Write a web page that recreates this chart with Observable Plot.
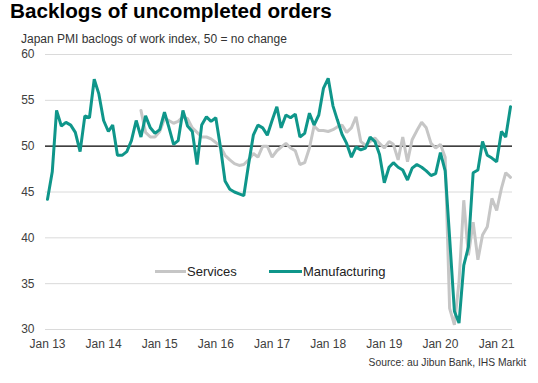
<!DOCTYPE html>
<html>
<head>
<meta charset="utf-8">
<script src="https://cdn.jsdelivr.net/npm/d3@7"></script>
<script src="https://cdn.jsdelivr.net/npm/@observablehq/plot@0.6"></script>
<style>
  html, body { margin: 0; padding: 0; background: #fff; }
  #wrap { position: relative; width: 538px; height: 383px; overflow: hidden; font-family: "Liberation Sans", Arial, sans-serif; }
  .abs { position: absolute; white-space: nowrap; }
  #title { left: 10px; top: 1px; font-size: 20.7px; line-height: 20.7px; font-weight: bold; color: #000; }
  #subtitle { left: 21px; top: 33px; font-size: 12px; line-height: 12px; color: #333; }
  #chart { position: absolute; left: 0; top: 45px; }
  .leg { font-size: 13px; line-height: 13px; color: #222; }
  .legline { position: absolute; height: 3px; }
  #source { right: 12px; top: 358px; font-size: 10.3px; line-height: 10.3px; color: #333; }
</style>
</head>
<body>
<div id="wrap">
  <div id="title" class="abs">Backlogs of uncompleted orders</div>
  <div id="subtitle" class="abs">Japan PMI baclogs of work index, 50 = no change</div>
  <div id="chart"></div>
  <div class="legline" style="left:155px; top:270px; width:31px; background:#c6c6c6;"></div>
  <div class="abs leg" style="left:187px; top:265px;">Services</div>
  <div class="legline" style="left:269px; top:270px; width:33px; background:#0f968a;"></div>
  <div class="abs leg" style="left:303px; top:265px;">Manufacturing</div>
  <div id="source" class="abs">Source: au Jibun Bank, IHS Markit</div>
</div>
<script>
// Monthly series, Jan 2013 – Apr 2021
const manufacturingStart = [2013, 0];
const manufacturing = [
  44.2, 47.2, 53.9, 52.2, 52.6, 52.3, 51.5, 49.4, 53.3, 53.1, 57.3, 55.7,
  52.8, 51.6, 52.3, 49.0, 49.0, 49.4, 50.6, 52.8, 51.0, 53.3, 52.0, 51.4,
  51.8, 53.7, 52.1, 50.2, 50.6, 53.9, 52.2, 51.6, 48.0, 52.3, 53.2, 52.7,
  53.1, 49.8, 46.2, 45.3, 45.0, 44.8, 44.6, 48.0, 51.2, 52.3, 52.0, 51.2,
  52.8, 54.3, 52.0, 53.4, 53.1, 53.5, 51.0, 51.4, 53.6, 52.3, 53.4, 56.3,
  57.4, 54.4, 52.9, 51.3, 50.3, 48.8, 49.9, 49.6, 49.8, 51.0, 50.5, 49.1,
  46.0, 47.7, 48.2, 47.7, 47.4, 46.3, 47.6, 48.0, 47.7, 47.3, 46.8, 47.0,
  49.3, 47.3, 40.0, 32.0, 30.7, 37.0, 39.0, 47.1, 47.4, 50.5, 49.0, 48.7,
  48.3, 51.6, 51.0, 54.3
];
// Services series starts Sep 2014
const servicesStart = [2014, 8];
const services = [
  53.9, 51.5, 51.0, 51.0,
  51.6, 53.0, 52.8, 52.5, 52.7, 53.2, 53.0, 52.0, 51.5, 51.0, 51.0, 50.8,
  50.4, 49.9, 49.0, 48.5, 48.1, 47.9, 48.0, 48.5, 49.2, 48.8, 50.0, 50.0,
  48.8, 49.5, 49.9, 50.3, 49.8, 49.5, 48.0, 48.2, 49.8, 52.2, 51.7, 51.7,
  51.6, 51.8, 52.1, 52.3, 51.5, 52.0, 53.2, 50.5, 50.1, 50.5, 50.9, 50.3,
  49.8, 50.5, 50.2, 48.5, 51.0, 48.3, 50.7, 51.7, 52.6, 52.0, 50.3, 49.8,
  50.2, 48.8, 32.3, 30.5, 35.2, 44.1, 38.1, 41.7, 37.6, 40.3, 41.2, 44.3,
  43.0, 45.4, 47.1, 46.6
];
const yTicks = [30, 35, 40, 45, 50, 55, 60];
const gridValues = [30, 35, 40, 45, 55, 60];
const baseline = [50];
const xTickYears = [2013, 2014, 2015, 2016, 2017, 2018, 2019, 2020, 2021];

const toRows = (start, vals) => vals.map((v, i) => ({date: new Date(Date.UTC(start[0], start[1] + i, 1)), value: v}));
const mRows = toRows(manufacturingStart, manufacturing);
const sRows = toRows(servicesStart, services);
const xTicks = xTickYears.map(y => new Date(Date.UTC(y, 0, 1)));
const fmt = d3.utcFormat("Jan %y");

const chart = Plot.plot({
  width: 538,
  height: 310,
  marginLeft: 45,
  marginRight: 26,
  marginTop: 9,
  marginBottom: 26,
  style: {fontFamily: "'Liberation Sans', Arial, sans-serif", fontSize: "12px", color: "#404040", background: "transparent"},
  x: {type: "utc", domain: [mRows[0].date, mRows[mRows.length - 1].date], insetLeft: 2, insetRight: 2},
  y: {domain: [30, 60]},
  marks: [
    Plot.ruleY(gridValues, {stroke: "#dadada", strokeWidth: 1}),
    Plot.ruleY(baseline, {stroke: "#000", strokeWidth: 1.4}),
    Plot.lineY(sRows, {x: "date", y: "value", stroke: "#c6c6c6", strokeWidth: 3, strokeLinejoin: "miter"}),
    Plot.lineY(mRows, {x: "date", y: "value", stroke: "#0f968a", strokeWidth: 3, strokeLinejoin: "miter"}),
    Plot.axisY({ticks: yTicks, tickSize: 0, tickPadding: 11, label: null, fontSize: 12}),
    Plot.axisX({ticks: xTicks, tickFormat: fmt, tickSize: 0, tickPadding: 10, label: null, fontSize: 12})
  ]
});
document.getElementById("chart").appendChild(chart);
</script>
</body>
</html>
